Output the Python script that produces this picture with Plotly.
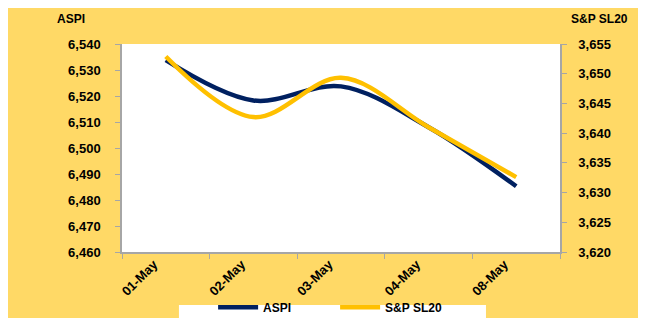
import plotly.graph_objects as go

dates = ["01-May", "02-May", "03-May", "04-May", "08-May"]
aspi = [6533.8, 6518.3, 6523.7, 6508.0, 6485.3]
sl20 = [3652.9, 3642.7, 3649.3, 3641.0, 3632.6]
left_ticks = [6460, 6470, 6480, 6490, 6500, 6510, 6520, 6530, 6540]
right_ticks = [3620, 3625, 3630, 3635, 3640, 3645, 3650, 3655]

bg = "#FFD966"
navy = "#002060"
gold = "#FFC000"
fam = "Liberation Sans"

fig = go.Figure()
fig.add_trace(go.Scatter(x=dates, y=aspi, name="ASPI", mode="lines",
                         line=dict(color=navy, width=4.5, shape="spline", smoothing=1.0)))
fig.add_trace(go.Scatter(x=dates, y=sl20, name="S&P SL20", mode="lines", yaxis="y2",
                         line=dict(color=gold, width=4.5, shape="spline", smoothing=1.0)))

axcol = "#A6A6A6"
fig.update_layout(
    width=646, height=318,
    paper_bgcolor=bg, plot_bgcolor="white",
    margin=dict(l=114, r=94, t=36, b=74, autoexpand=False),
    font=dict(family=fam, size=12, color="#000"),
    xaxis=dict(type="category", range=[-0.5, 4.5], tickson="boundaries",
               showgrid=False, showline=True, linecolor=axcol, linewidth=1.5,
               ticks="outside", ticklen=5, tickcolor=axcol, tickangle=-45,
               ticklabelshift=-12, ticklabelstandoff=-2,
               tickfont=dict(family=fam, size=13, color="#000", weight="bold"),
               zeroline=False, automargin=False),
    yaxis=dict(range=[6460, 6540], tickvals=left_ticks,
               ticktext=[f"{v:,}" for v in left_ticks], showgrid=False, showline=True,
               linecolor=axcol, linewidth=1.5, ticks="outside", ticklen=5, tickcolor=axcol,
               ticklabelstandoff=12,
               tickfont=dict(family=fam, size=13, color="#000", weight="bold"),
               zeroline=False, automargin=False),
    yaxis2=dict(range=[3620, 3655], tickvals=right_ticks,
                ticktext=[f"{v:,}" for v in right_ticks], overlaying="y", side="right",
                showgrid=False, showline=True, linecolor=axcol, linewidth=1.5,
                ticks="outside", ticklen=5, tickcolor=axcol, ticklabelstandoff=9,
                tickfont=dict(family=fam, size=13, color="#000", weight="bold"),
                zeroline=False, automargin=False),
    legend=dict(orientation="h", x=0.208, xanchor="left", y=-0.335, yanchor="bottom",
                bgcolor="rgba(0,0,0,0)", font=dict(family=fam, size=12, color="#000", weight="bold"),
                entrywidth=67, itemwidth=40, tracegroupgap=0),
    showlegend=True,
    shapes=[dict(type="rect", xref="paper", yref="paper", x0=0.130, x1=0.831,
                 y0=-0.346, y1=-0.255, fillcolor="white", line=dict(width=0), layer="below")],
    annotations=[
        dict(text="<b>ASPI</b>", xref="paper", yref="paper", x=-0.117, y=1.075,
             xanchor="center", yanchor="bottom", showarrow=False,
             font=dict(family=fam, size=12, color="#000")),
        dict(text="<b>S&P SL20</b>", xref="paper", yref="paper", x=1.091, y=1.075,
             xanchor="center", yanchor="bottom", showarrow=False,
             font=dict(family=fam, size=12, color="#000")),
    ],
)

fig.write_html("out.html")
